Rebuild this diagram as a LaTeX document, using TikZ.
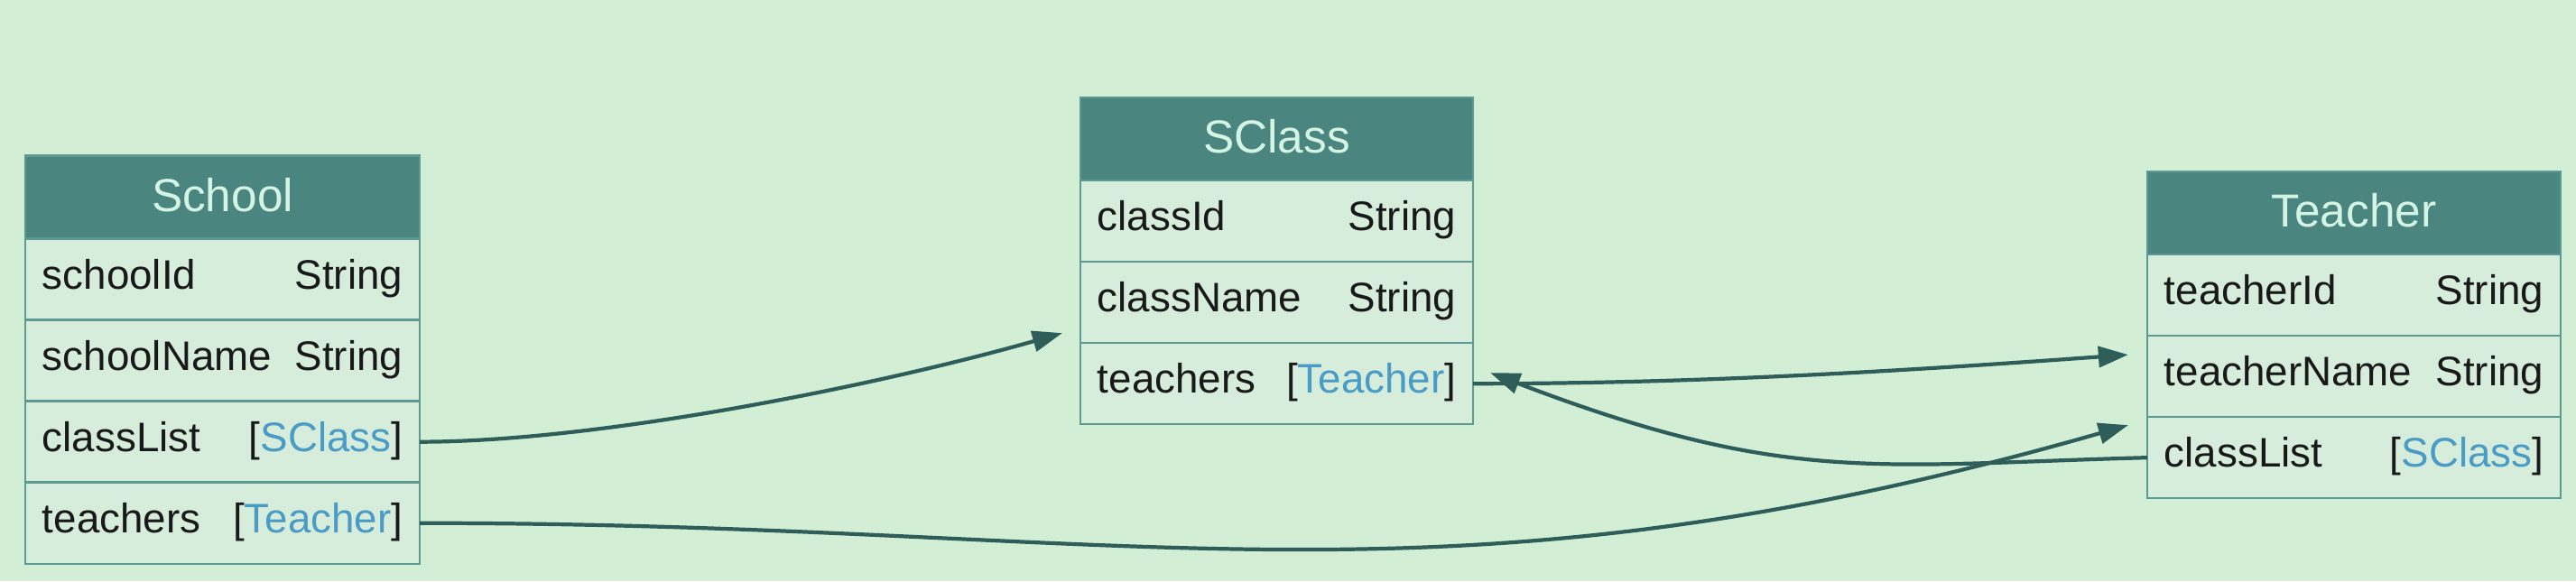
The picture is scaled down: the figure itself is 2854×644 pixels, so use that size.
\documentclass[tikz,border=0pt]{standalone}
\usepackage{fontspec}
\setmainfont{Liberation Sans}
\usepackage{xcolor}
\usetikzlibrary{arrows.meta,positioning}
\definecolor{bgmint}{HTML}{D2EFD6}
\definecolor{rowmint}{HTML}{D5EDDA}
\definecolor{headteal}{HTML}{4A8580}
\definecolor{headtext}{HTML}{D5F5E4}
\definecolor{bordteal}{HTML}{5E9A94}
\definecolor{edgeteal}{HTML}{2F5E5A}
\definecolor{typeblue}{HTML}{4A9BC5}
\newcommand{\hdfont}{\fontsize{14.6}{17}\selectfont}
\newcommand{\fldfont}{\fontsize{13}{15}\selectfont}
\newcommand{\ty}[1]{[\textcolor{typeblue}{#1}]}
\tikzset{
  head/.style={rectangle, draw=bordteal, line width=0.7pt, fill=headteal, text=headtext, font=\hdfont, inner sep=0pt, outer sep=0pt, minimum height=0.92cm, text height=0.39cm, text depth=0.08cm},
  field/.style={rectangle, draw=bordteal, line width=0.7pt, fill=rowmint, text=black!90, font=\fldfont, inner xsep=0.19cm, inner ysep=0pt, outer sep=0pt, minimum height=0.9cm, text height=0.33cm, text depth=0.12cm, text width=#1},
  link/.style={-{Triangle[length=0.33cm,width=0.23cm]}, line width=1.2pt, draw=edgeteal}
}

\begin{document}
\begin{tikzpicture}[x=0.01cm, y=-0.01cm]
  \fill[bgmint] (0,0) rectangle (2854,644);
  \useasboundingbox (0,0) rectangle (2854,644);
  % School
  \node[head, minimum width=4.37cm] (sch) at (246.5,218.5) {School};
  \node[field=3.99cm, below=0pt of sch] (sch1) {schoolId\hfill String};
  \node[field=3.99cm, below=0pt of sch1] (sch2) {schoolName\hfill String};
  \node[field=3.99cm, below=0pt of sch2] (sch3) {classList\hfill \ty{SClass}};
  \node[field=3.99cm, below=0pt of sch3] (sch4) {teachers\hfill \ty{Teacher}};
  % SClass
  \node[head, minimum width=4.35cm] (cls) at (1414.5,154) {SClass};
  \node[field=3.97cm, below=0pt of cls] (cls1) {classId\hfill String};
  \node[field=3.97cm, below=0pt of cls1] (cls2) {className\hfill String};
  \node[field=3.97cm, below=0pt of cls2] (cls3) {teachers\hfill \ty{Teacher}};
  % Teacher
  \node[head, minimum width=4.58cm] (tch) at (2608,236) {Teacher};
  \node[field=4.2cm, below=0pt of tch] (tch1) {teacherId\hfill String};
  \node[field=4.2cm, below=0pt of tch1] (tch2) {teacherName\hfill String};
  \node[field=4.2cm, below=0pt of tch2] (tch3) {classList\hfill \ty{SClass}};
  % links
  \draw[link] (sch3.east) .. controls +(200,0) and +(-200,57) .. ([xshift=-0.2cm,yshift=0.11cm]cls2.south west);
  \draw[link] (sch4.east) .. controls +(800,0) and +(-769,220) .. ([xshift=-0.21cm,yshift=-0.09cm]tch3.north west);
  \draw[link] (cls3.east) .. controls +(250,0) and +(-250,18) .. ([xshift=-0.21cm,yshift=-0.21cm]tch2.north west);
  \draw[link] (tch3.west) .. controls +(-300,8) and +(327,125) .. ([xshift=0.19cm,yshift=-0.33cm]cls3.north east);
\end{tikzpicture}
\end{document}
